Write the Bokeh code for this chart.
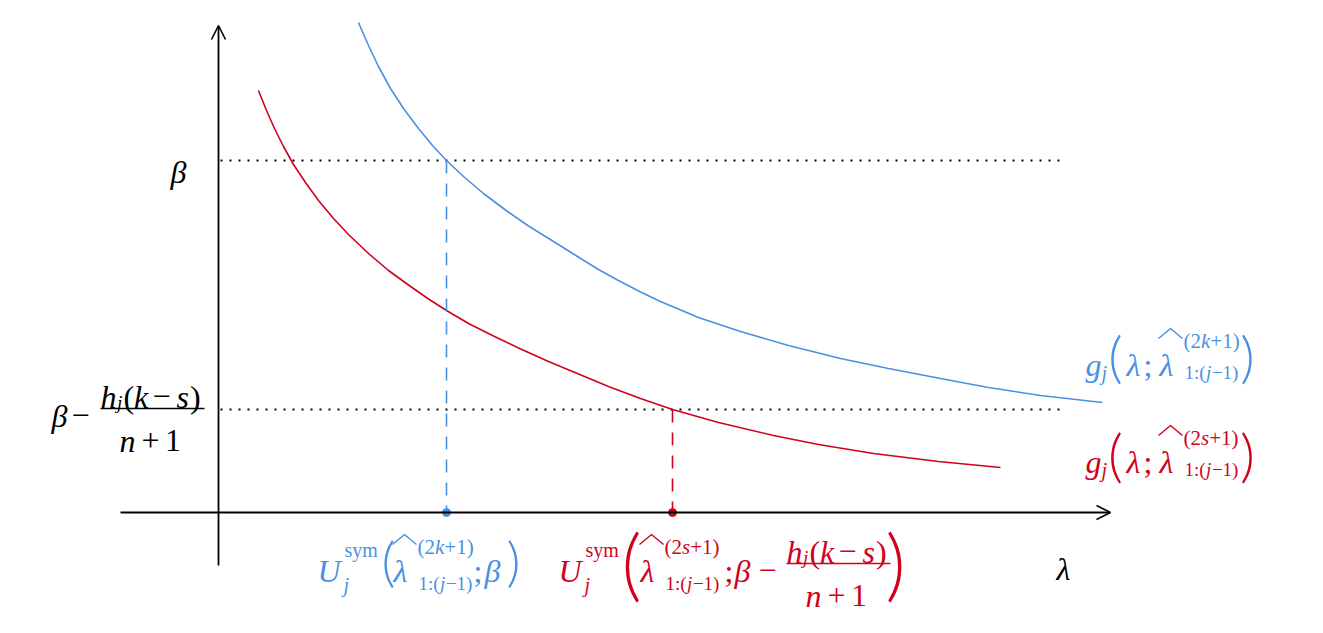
from bokeh.plotting import figure
from bokeh.models import Label, Arrow, OpenHead, Range1d
from bokeh.embed import file_html
from bokeh.resources import INLINE

# ---------------- data ----------------
blue_lam = [1.40, 1.50, 1.60, 1.72, 1.85, 2.00, 2.14, 2.28, 2.45, 2.65, 2.89, 3.10, 3.35, 3.55,
            3.80, 4.00, 4.22, 4.42, 4.80, 5.22, 5.70, 6.22, 6.70, 7.22, 7.70, 8.22, 8.84]
blue_beta = [4.90, 4.67, 4.46, 4.24, 4.04, 3.84, 3.67, 3.52, 3.36, 3.19, 3.01, 2.865, 2.71, 2.585,
             2.43, 2.32, 2.205, 2.11, 1.95, 1.81, 1.67, 1.54, 1.44, 1.34, 1.25, 1.17, 1.10]

red_lam = [0.40, 0.48, 0.56, 0.65, 0.75, 0.87, 1.00, 1.15, 1.30, 1.50, 1.70, 1.90, 2.10, 2.28,
           2.50, 2.75, 3.00, 3.30, 3.60, 3.90, 4.22, 4.54, 5.00, 5.55, 6.00, 6.55, 7.20, 7.82]
red_beta = [4.22, 4.02, 3.84, 3.66, 3.48, 3.30, 3.12, 2.94, 2.78, 2.59, 2.42, 2.275, 2.135, 2.02,
            1.89, 1.765, 1.645, 1.51, 1.385, 1.26, 1.14, 1.03, 0.90, 0.77, 0.68, 0.59, 0.51, 0.45]

beta_levels = [3.52, 1.03]          # beta  and  beta - h_j(k-s)/(n+1)
dotted_end = 8.45                   # where the dotted guide lines stop
u_sym = [2.28, 4.54]                # U^sym (blue)  and  U^sym (red)
x_axis_ext = [-0.98, 8.92]
y_axis_ext = [-0.53, 4.87]

BLUE = "#4A90E2"
RED = "#D0021B"
INK = "#000000"
SERIF = "Liberation Serif"
PAREN = "'Lato Light', 'Lato Thin', 'Liberation Serif'"

MAIN, SUP, SUB = 32, 21, 19

W, H = 1307, 617
X0 = -2.18
X1 = X0 + 13.07
Y1 = 5.12
Y0 = Y1 - 6.17
PX = (X1 - X0) / W
PY = (Y1 - Y0) / H

p = figure(width=W, height=H, x_range=Range1d(X0, X1), y_range=Range1d(Y0, Y1),
           x_axis_type=None, y_axis_type=None, toolbar_location=None,
           output_backend="svg", min_border=0)
p.outline_line_color = None
p.grid.visible = False
p.background_fill_color = "white"
p.border_fill_color = "white"

# guide lines
for b in beta_levels:
    p.line([0.02, dotted_end], [b, b], line_color=INK, line_width=1.8, line_dash="2 7")

# curves
p.line(blue_lam, blue_beta, line_color=BLUE, line_width=1.6)
p.line(red_lam, red_beta, line_color=RED, line_width=1.6)

# dashed projections
p.line([u_sym[0], u_sym[0]], [beta_levels[0], 0], line_color=BLUE, line_width=1.6, line_dash="13 10")
p.line([u_sym[1], u_sym[1]], [beta_levels[1], 0], line_color=RED, line_width=1.6, line_dash="13 10")

# axes
p.add_layout(Arrow(end=OpenHead(size=14, line_width=1.6, line_color=INK),
                   x_start=x_axis_ext[0], y_start=0, x_end=x_axis_ext[1], y_end=0,
                   line_width=1.8, line_color=INK))
p.add_layout(Arrow(end=OpenHead(size=14, line_width=1.6, line_color=INK),
                   x_start=0, y_start=y_axis_ext[0], x_end=0, y_end=y_axis_ext[1],
                   line_width=1.8, line_color=INK))

p.scatter([u_sym[0]], [0], size=8, color=BLUE)
p.scatter([u_sym[1]], [0], size=8, color=RED)


def lab(text, ax, ay, dx, dy, size, color, style="italic", align="left", font=SERIF):
    p.add_layout(Label(x=ax, y=ay, x_offset=dx, y_offset=-dy, text=text,
                       text_font=font, text_font_size=f"{size}px",
                       text_font_style=style, text_color=color,
                       text_align=align, text_baseline="alphabetic"))


def paren(ch, ax, ay, cx, base, size, color):
    lab(ch, ax, ay, cx, base, size, color, "normal", "center", PAREN)


def px_line(ax, ay, dxs, dys, color, width=1.5):
    p.line([ax + d * PX for d in dxs], [ay - d * PY for d in dys],
           line_color=color, line_width=width)


def frac_hks(ax, ay, bx, by, color):
    """h_j(k - s) / (n + 1); bx = bar start offset, by = bar offset"""
    px_line(ax, ay, [bx, bx + 104], [by, by], color)
    nb = by - 12
    lab("h", ax, ay, bx + 0, nb, MAIN, color)
    lab("j", ax, ay, bx + 16.5, nb + 6, SUB, color)
    lab("(", ax, ay, bx + 23, nb, MAIN, color, "normal")
    lab("k", ax, ay, bx + 33.5, nb, MAIN, color)
    lab("\u2212", ax, ay, bx + 52, nb, MAIN, color, "normal")
    lab("s", ax, ay, bx + 76, nb, MAIN, color)
    lab(")", ax, ay, bx + 89.5, nb, MAIN, color, "normal")
    db = by + 32
    lab("n", ax, ay, bx + 19, db, MAIN, color)
    lab("+", ax, ay, bx + 41, db, MAIN, color, "normal")
    lab("1", ax, ay, bx + 64.5, db, MAIN, color, "normal")


def hat_lambda(ax, ay, dx, base, color, letter, sup_base, sub_base):
    """widehat lambda with ^{(2?+1)} and _{1:(j-1)} ; dx = left of lambda"""
    lab("\u03bb", ax, ay, dx, base, MAIN, color)
    px_line(ax, ay, [dx - 1, dx + 11, dx + 23], [base - 26, base - 36, base - 26], color, 1.4)
    sx = dx + 24
    lab("(2", ax, ay, sx, sup_base, SUP, color, "normal")
    lab(letter, ax, ay, sx + 17.5, sup_base, SUP, color)
    lab("+1)", ax, ay, sx + 17.5 + (9.3 if letter == "k" else 8.2), sup_base, SUP, color, "normal")
    lab("1:(", ax, ay, sx + 1, sub_base, SUB, color, "normal")
    lab("j", ax, ay, sx + 22.6, sub_base, SUB, color)
    lab("\u22121)", ax, ay, sx + 28.4, sub_base, SUB, color, "normal")


def u_label(ax, ay, ux, color):
    lab("U", ax, ay, ux, 58, MAIN, color)
    lab("j", ax, ay, ux + 26, 72, SUB + 1, color)
    lab("sym", ax, ay, ux + 27, 37, SUB + 1, color, "normal")


# ---- left labels ----
lab("\u03b2", 0, beta_levels[0], -48, 11, MAIN, INK)
lab("\u03b2", 0, beta_levels[1], -167, 6, MAIN, INK)
lab("\u2212", 0, beta_levels[1], -147, 6, MAIN, INK, "normal")
frac_hks(0, beta_levels[1], -118, -1, INK)

# ---- lambda axis label ----
lab("\u03bb", x_axis_ext[1], 0, -54, 56, MAIN, INK)

# ---- bottom blue label: U_j^sym( hat-lambda ; beta ) ----
ax, ay = u_sym[0], 0
u_label(ax, ay, -129, BLUE)
paren("(", ax, ay, -58, 48, 54, BLUE)
hat_lambda(ax, ay, -53, 58, BLUE, "k", 34, 71)
lab(";", ax, ay, 27, 58, MAIN, BLUE, "normal")
lab("\u03b2", ax, ay, 38, 58, MAIN, BLUE)
paren(")", ax, ay, 67, 48, 54, BLUE)

# ---- bottom red label ----
ax, ay = u_sym[1], 0
u_label(ax, ay, -114, RED)
paren("(", ax, ay, -41, 49, 78, RED)
hat_lambda(ax, ay, -32, 58, RED, "s", 34, 71)
lab(";", ax, ay, 52, 58, MAIN, RED, "normal")
lab("\u03b2", ax, ay, 62, 58, MAIN, RED)
lab("\u2212", ax, ay, 86, 58, MAIN, RED, "normal")
frac_hks(ax, ay, 114, 51, RED)
paren(")", ax, ay, 223, 49, 78, RED)

# ---- right blue label: g_j(lambda; hat-lambda) ----
ax, ay = blue_lam[-1], blue_beta[-1]
lab("g", ax, ay, -17, -38, MAIN, BLUE)
lab("j", ax, ay, -1, -30, SUB + 1, BLUE)
paren("(", ax, ay, 13, -47, 56, BLUE)
lab("\u03bb", ax, ay, 24, -38, MAIN, BLUE)
lab(";", ax, ay, 41, -38, MAIN, BLUE, "normal")
hat_lambda(ax, ay, 57, -38, BLUE, "k", -62, -30)
paren(")", ax, ay, 145, -47, 56, BLUE)

# ---- right red label ----
ax, ay = red_lam[-1], red_beta[-1]
lab("g", ax, ay, 85, -6, MAIN, RED)
lab("j", ax, ay, 101, 2, SUB + 1, RED)
paren("(", ax, ay, 115, -14, 58, RED)
lab("\u03bb", ax, ay, 126, -6, MAIN, RED)
lab(";", ax, ay, 143, -6, MAIN, RED, "normal")
hat_lambda(ax, ay, 159, -6, RED, "s", -30, 2)
paren(")", ax, ay, 247, -14, 58, RED)

open("out.html", "w").write(file_html(p, INLINE))
